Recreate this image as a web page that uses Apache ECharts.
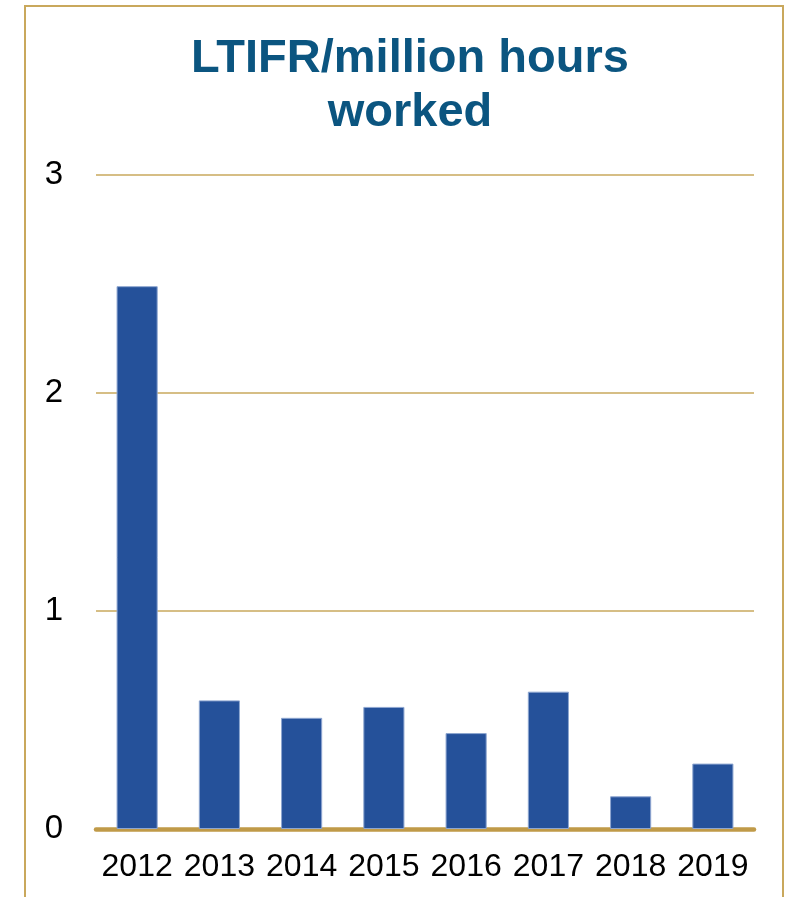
<!DOCTYPE html>
<html>
<head>
<meta charset="utf-8">
<script src="https://cdn.jsdelivr.net/npm/echarts@6/dist/echarts.min.js"></script>
<style>
  html, body { margin: 0; padding: 0; background: #ffffff; }
  #chart { width: 787px; height: 897px; }
</style>
</head>
<body>
<div id="chart"></div>
<script>
// Lost-time injury frequency rate per million hours worked, by year
const years = ['2012', '2013', '2014', '2015', '2016', '2017', '2018', '2019'];
const ltifr = [2.49, 0.59, 0.51, 0.56, 0.44, 0.63, 0.15, 0.30];
const yTicks = [0, 1, 2, 3];

const FONT = '"Liberation Sans", Arial, Helvetica, sans-serif';
const GOLD = '#C9A85C';

const chart = echarts.init(document.getElementById('chart'), null, { renderer: 'canvas' });

chart.setOption({
  animation: false,
  backgroundColor: '#ffffff',
  title: {
    text: 'LTIFR/million hours\nworked',
    left: 405,
    top: 27,
    textAlign: 'center',
    textStyle: {
      fontFamily: FONT,
      fontSize: 47,
      fontWeight: 'bold',
      color: '#0B5580',
      lineHeight: 54
    }
  },
  graphic: [{
    type: 'rect',
    shape: { x: 25, y: 6, width: 758, height: 960 },
    style: { fill: 'none', stroke: GOLD, lineWidth: 2 },
    silent: true
  }],
  grid: { left: 96, right: 33, top: 175, bottom: 68, containLabel: false },
  xAxis: {
    type: 'category',
    data: years,
    axisTick: { show: false },
    axisLine: { show: true, lineStyle: { color: '#C09A48', width: 4.5 } },
    axisLabel: {
      interval: 0,
      margin: 22,
      fontFamily: FONT,
      fontSize: 32,
      color: '#000000'
    }
  },
  yAxis: {
    type: 'value',
    min: yTicks[0],
    max: yTicks[yTicks.length - 1],
    interval: 1,
    axisLine: { show: false },
    axisTick: { show: false },
    splitLine: { lineStyle: { color: GOLD, width: 1.5 } },
    axisLabel: {
      margin: 33,
      fontFamily: FONT,
      fontSize: 33,
      color: '#000000'
    }
  },
  series: [{
    type: 'bar',
    data: ltifr,
    barWidth: '50%',
    itemStyle: {
      color: '#25519A',
      borderColor: '#8EA6D0',
      borderWidth: 1
    },
    z: 1
  }]
});
</script>
</body>
</html>
